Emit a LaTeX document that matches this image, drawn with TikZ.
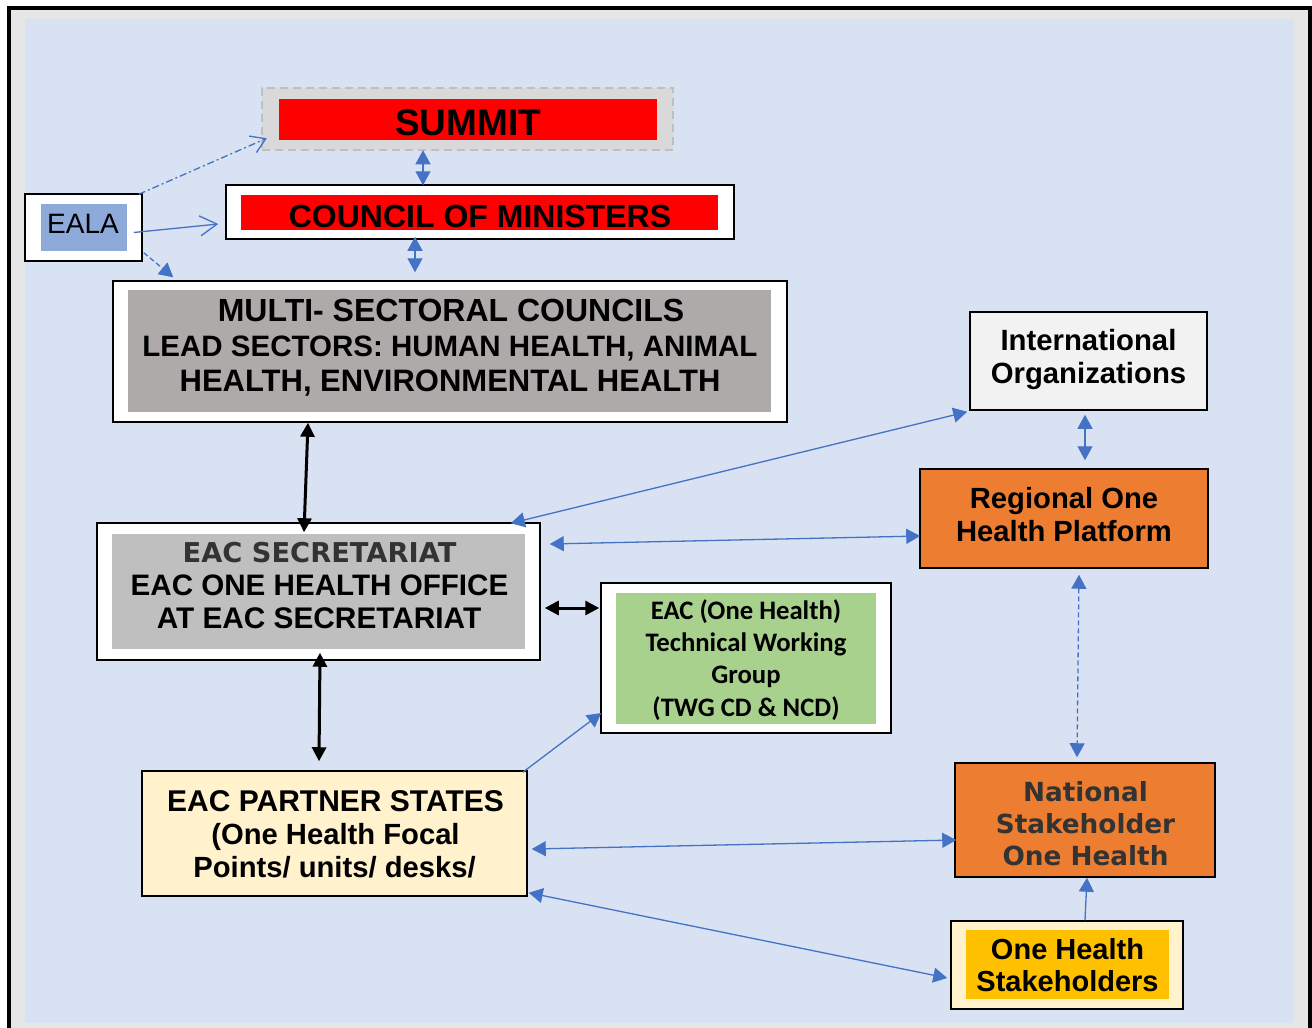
\documentclass[tikz,border=0pt]{standalone}
\usepackage{fontspec}
\setmainfont{Liberation Sans}
\newfontfamily\verdfont{DejaVu Sans}
\newfontfamily\calfont{Carlito}
\usetikzlibrary{arrows.meta}

\definecolor{panel}{HTML}{D9E2F3}
\definecolor{rim}{HTML}{E6E6E6}
\definecolor{linkblue}{HTML}{4472C4}
\definecolor{ealablue}{HTML}{8EAADB}
\definecolor{mscgrey}{HTML}{AEAAAA}
\definecolor{secgrey}{HTML}{BFBFBF}
\definecolor{summitgrey}{HTML}{D9D9D9}
\definecolor{summitedge}{HTML}{BFBFBF}
\definecolor{twggreen}{HTML}{A9D18E}
\definecolor{cream}{HTML}{FFF2CC}
\definecolor{orangebox}{HTML}{ED7D31}
\definecolor{gold}{HTML}{FFC000}
\definecolor{intlgrey}{HTML}{F2F2F2}
\definecolor{darktext}{HTML}{333333}

\newcommand{\sz}[1]{\fontsize{#1pt}{#1pt}\selectfont}

\tikzset{
  frame/.style={draw=black, line width=1.5pt, fill=white, inner sep=0pt},
  bar/.style={draw=none, inner sep=0pt},
  lbl/.style={inner sep=0pt, anchor=base},
  link/.style={draw=linkblue, line width=1.3pt},
  twoway/.style={link, {Triangle[length=14pt,width=15pt]}-{Triangle[length=14pt,width=15pt]}},
  oneway/.style={link, -{Triangle[length=14pt,width=15pt]}},
  heavy/.style={draw=black, line width=3pt, {Triangle[length=14pt,width=14pt]}-{Triangle[length=14pt,width=14pt]}},
}

\begin{document}
\begin{tikzpicture}[x=1pt,y=-1pt]
\useasboundingbox (0,0) rectangle (1312,1028);

% outer frame and panel
\fill[white] (0,0) rectangle (1312,1028);
\fill[black] (7,6) rectangle (1312,1028);
\fill[rim] (11,10) rectangle (1308,1028);
\fill[panel] (25,19) rectangle (1294,1023);

% SUMMIT
\node[bar, fill=summitgrey, draw=summitedge, line width=2.5pt, dash pattern=on 8pt off 5pt,
      minimum width=411pt, minimum height=62pt] (summit) at (467.5,119) {};
\node[bar, fill=red, minimum width=378pt, minimum height=41pt] (summitbar) at (468,119.5) {};
\node[lbl, font=\sz{37}\bfseries] (summitlbl) at (468,135) {SUMMIT};

% COUNCIL OF MINISTERS
\node[frame, minimum width=508pt, minimum height=54pt] (council) at (480,212) {};
\node[bar, fill=red, minimum width=477pt, minimum height=35pt] (councilbar) at (479.5,212.5) {};
\node[lbl, font=\sz{32}\bfseries] (councillbl) at (480,227) {COUNCIL OF MINISTERS};

% EALA
\node[frame, minimum width=117pt, minimum height=67pt] (eala) at (83.5,227.5) {};
\node[bar, fill=ealablue, minimum width=86pt, minimum height=47pt] (ealabar) at (84,227.5) {};
\node[lbl, font=\sz{28}] (ealalbl) at (83,233) {EALA};

% MULTI-SECTORAL COUNCILS
\node[frame, minimum width=674pt, minimum height=141pt] (msc) at (450,351.5) {};
\node[bar, fill=mscgrey, minimum width=643pt, minimum height=122pt] (mscbar) at (449.5,351) {};
\node[lbl, font=\sz{32}\bfseries] (msc1) at (451,321) {MULTI- SECTORAL COUNCILS};
\node[lbl, font=\sz{29.5}\bfseries] (msc2) at (450,356) {LEAD SECTORS: HUMAN HEALTH, ANIMAL};
\node[lbl, font=\sz{31}\bfseries] (msc3) at (450,391) {HEALTH, ENVIRONMENTAL HEALTH};

% EAC SECRETARIAT
\node[frame, minimum width=443pt, minimum height=137pt] (sec) at (318.5,591.5) {};
\node[bar, fill=secgrey, minimum width=413pt, minimum height=115pt] (secbar) at (318.5,591.5) {};
\node[lbl, font=\verdfont\sz{27.3}\bfseries, text=darktext] (sec1) at (319.5,562) {EAC SECRETARIAT};
\node[lbl, font=\sz{29.6}\bfseries] (sec2) at (319.5,595) {EAC ONE HEALTH OFFICE};
\node[lbl, font=\sz{29.8}\bfseries] (sec3) at (319,628) {AT EAC SECRETARIAT};

% TECHNICAL WORKING GROUP
\node[frame, minimum width=290pt, minimum height=150pt] (twg) at (746,658) {};
\node[bar, fill=twggreen, minimum width=260pt, minimum height=131pt] (twgbar) at (746,658.5) {};
\node[lbl, font=\calfont\sz{26.7}\bfseries] (twg1) at (746,619) {EAC (One Health)};
\node[lbl, font=\calfont\sz{26.7}\bfseries] (twg2) at (746,651) {Technical Working};
\node[lbl, font=\calfont\sz{26.7}\bfseries] (twg3) at (746,683.5) {Group};
\node[lbl, font=\calfont\sz{26.7}\bfseries] (twg4) at (746,716) {(TWG CD \& NCD)};

% EAC PARTNER STATES
\node[frame, fill=cream, minimum width=385pt, minimum height=125pt] (ps) at (334.5,833.5) {};
\node[lbl, font=\sz{30}\bfseries] (ps1) at (335.5,811) {EAC PARTNER STATES};
\node[lbl, font=\sz{29.2}\bfseries] (ps2) at (335.5,844) {(One Health Focal};
\node[lbl, font=\sz{29.2}\bfseries] (ps3) at (334.5,877) {Points/ units/ desks/};

% INTERNATIONAL ORGANIZATIONS
\node[frame, fill=intlgrey, minimum width=237pt, minimum height=98pt] (intl) at (1088.5,361) {};
\node[lbl, font=\sz{29.3}\bfseries] (intl1) at (1088.5,350) {International};
\node[lbl, font=\sz{29.3}\bfseries] (intl2) at (1088.5,383) {Organizations};

% REGIONAL ONE HEALTH PLATFORM
\node[frame, fill=orangebox, minimum width=288pt, minimum height=99pt] (reg) at (1064,518.5) {};
\node[lbl, font=\sz{29.2}\bfseries] (reg1) at (1064,508) {Regional One};
\node[lbl, font=\sz{29.2}\bfseries] (reg2) at (1064,541) {Health Platform};

% NATIONAL STAKEHOLDER ONE HEALTH
\node[frame, fill=orangebox, minimum width=260pt, minimum height=114pt] (nat) at (1085,820) {};
\node[lbl, font=\verdfont\sz{26.3}\bfseries, text=darktext] (nat1) at (1085.5,801) {National};
\node[lbl, font=\verdfont\sz{26.3}\bfseries, text=darktext] (nat2) at (1085.5,833) {Stakeholder};
\node[lbl, font=\verdfont\sz{26.3}\bfseries, text=darktext] (nat3) at (1085.5,865) {One Health};

% ONE HEALTH STAKEHOLDERS
\node[frame, fill=cream, minimum width=232pt, minimum height=88pt] (ohs) at (1067,965) {};
\node[bar, fill=gold, minimum width=203pt, minimum height=69pt] (ohsbar) at (1067.5,964.5) {};
\node[lbl, font=\sz{29}\bfseries] (ohs1) at (1067.5,959) {One Health};
\node[lbl, font=\sz{29}\bfseries] (ohs2) at (1067.5,991) {Stakeholders};

% links from EALA
\draw[link, dash pattern=on 7pt off 3pt on 2pt off 3pt, -{Straight Barb[length=14pt,width=18pt]}]
  ([shift={(-4,1)}]eala.north east) -- ([shift={(6,-13)}]summit.south west);
\draw[link, -{Straight Barb[length=17pt,width=20pt]}]
  ([shift={(-9,5)}]eala.east) -- ([shift={(-7,12)}]council.west);
\draw[link, dash pattern=on 5pt off 3pt, -{Triangle[length=14pt,width=15pt]}]
  ([shift={(1,-9)}]eala.south east) -- ([shift={(61,-3)}]msc.north west);

% vertical chain at the top
\draw[twoway] ([shift={(-44.5,-1)}]summit.south) -- ([shift={(-57,1)}]council.north);
\draw[twoway] ([shift={(-65,-3)}]council.south) -- ([shift={(-35,-8)}]msc.north);

% heavy links around the secretariat
\draw[heavy] ([shift={(-142,0)}]msc.south) -- ([shift={(-14.5,10)}]sec.north);
\draw[heavy] ([shift={(1.5,-8)}]sec.south) -- ([shift={(-15.5,-9)}]ps.north);
\draw[heavy] ([shift={(4,16.5)}]sec.east) -- ([shift={(-1,-50)}]twg.west);

% thin blue links
\draw[oneway] ([shift={(-5,2)}]ps.north east) -- ([shift={(1,55)}]twg.west);
\draw[twoway] ([shift={(-2,1)}]intl.south west) -- ([shift={(-30,1)}]sec.north east);
\draw[twoway] ([shift={(9,-47.5)}]sec.east) -- ([shift={(1,17.5)}]reg.west);
\draw[twoway] ([shift={(-3.5,4)}]intl.south) -- ([shift={(21,-8)}]reg.north);
\draw[twoway, dash pattern=on 5pt off 3pt] ([shift={(15,6)}]reg.south) -- ([shift={(-8,-5)}]nat.north);
\draw[twoway] ([shift={(4,15.5)}]ps.east) -- ([shift={(2,20)}]nat.west);
\draw[twoway] ([shift={(1,-4)}]ps.south east) -- ([shift={(-3,13)}]ohs.west);
\draw[oneway] ([shift={(18,0)}]ohs.north) -- ([shift={(2,0)}]nat.south);

\end{tikzpicture}
\end{document}
